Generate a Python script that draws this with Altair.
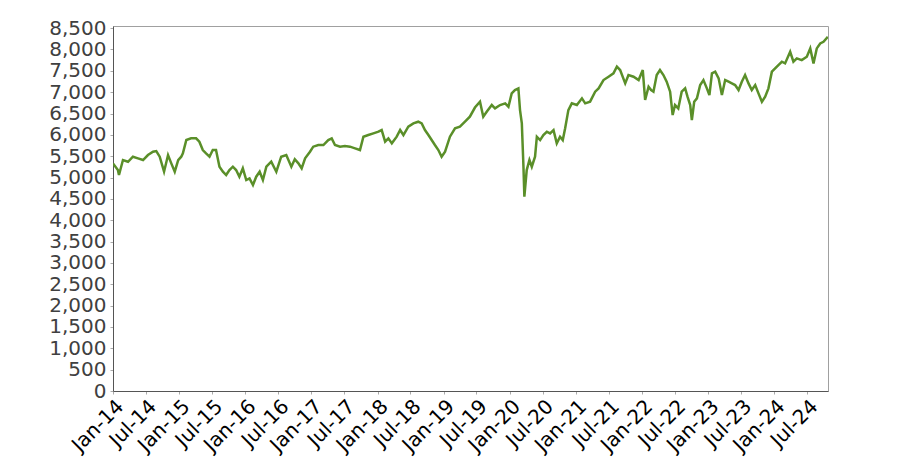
import altair as alt
import pandas as pd

dates = [
    "2014-01-01", "2014-01-28", "2014-02-03", "2014-02-25", "2014-03-25", "2014-04-21",
    "2014-05-19", "2014-06-16", "2014-07-13", "2014-08-10", "2014-08-28", "2014-09-16",
    "2014-10-10", "2014-11-01", "2014-11-19", "2014-12-08", "2014-12-27",
    "2015-01-13", "2015-01-22", "2015-02-10", "2015-03-08", "2015-04-05", "2015-04-23",
    "2015-05-12", "2015-05-30", "2015-06-18", "2015-07-06", "2015-07-24", "2015-08-12",
    "2015-08-31", "2015-09-18", "2015-10-06", "2015-10-25", "2015-11-12", "2015-11-30",
    "2015-12-19",
    "2016-01-07", "2016-01-25", "2016-02-13", "2016-03-02", "2016-03-21", "2016-04-08",
    "2016-04-27", "2016-05-24", "2016-06-21", "2016-07-18", "2016-08-15", "2016-09-12",
    "2016-10-01", "2016-10-21", "2016-11-08", "2016-11-27", "2016-12-24",
    "2017-01-11", "2017-02-08", "2017-03-08", "2017-04-04", "2017-04-23", "2017-05-11",
    "2017-06-08", "2017-07-05", "2017-08-02", "2017-08-30", "2017-09-26", "2017-10-15",
    "2017-11-11", "2017-12-09",
    "2018-01-06", "2018-01-24", "2018-02-12", "2018-03-02", "2018-03-21", "2018-04-17",
    "2018-05-06", "2018-05-24", "2018-06-20", "2018-07-18", "2018-08-14", "2018-09-02",
    "2018-09-20", "2018-10-09", "2018-10-27", "2018-11-14", "2018-12-03", "2018-12-21",
    "2019-01-09", "2019-02-05", "2019-03-05", "2019-04-01", "2019-04-29", "2019-05-26",
    "2019-06-23", "2019-07-21", "2019-08-08", "2019-08-27", "2019-09-24", "2019-10-12",
    "2019-11-09", "2019-12-07", "2019-12-25",
    "2020-01-12", "2020-01-30", "2020-02-18", "2020-02-27", "2020-03-08", "2020-03-17",
    "2020-03-22", "2020-04-04", "2020-04-19", "2020-05-02", "2020-05-20", "2020-05-30",
    "2020-06-17", "2020-07-05", "2020-07-24", "2020-08-11", "2020-08-30", "2020-09-17",
    "2020-10-05", "2020-10-20", "2020-11-02", "2020-11-20", "2020-12-09",
    "2021-01-06", "2021-02-03", "2021-02-21", "2021-03-20", "2021-04-17", "2021-05-06",
    "2021-06-02", "2021-06-30", "2021-07-27", "2021-08-15", "2021-09-02", "2021-09-30",
    "2021-10-18", "2021-11-15", "2021-12-13",
    "2022-01-05", "2022-01-18", "2022-02-06", "2022-02-20", "2022-03-05", "2022-03-23",
    "2022-04-10", "2022-04-29", "2022-05-17", "2022-06-05", "2022-06-19", "2022-07-02",
    "2022-07-20", "2022-08-08", "2022-08-27", "2022-09-09", "2022-09-24", "2022-10-03",
    "2022-10-16", "2022-10-31", "2022-11-18", "2022-12-06", "2022-12-25",
    "2023-01-08", "2023-01-22", "2023-02-09", "2023-02-28", "2023-03-18", "2023-04-05",
    "2023-04-24", "2023-05-12", "2023-05-30", "2023-06-18", "2023-07-06", "2023-07-24",
    "2023-08-12", "2023-08-30", "2023-09-18", "2023-10-06", "2023-10-25", "2023-11-12",
    "2023-11-30", "2023-12-19",
    "2024-01-06", "2024-01-24", "2024-02-12", "2024-03-01", "2024-03-29", "2024-04-16",
    "2024-05-05", "2024-06-01", "2024-06-29", "2024-07-18", "2024-08-05", "2024-08-23",
    "2024-09-11", "2024-09-29", "2024-10-23",
]

values = [
    5332, 5176, 5059, 5410, 5370, 5488,
    5450, 5410, 5527, 5605, 5620, 5488,
    5137, 5527, 5332, 5137, 5410,
    5488, 5566, 5879, 5918, 5918, 5840,
    5644, 5566, 5488, 5644, 5644, 5254,
    5137, 5059, 5176, 5254, 5176, 5020,
    5215,
    4942, 4981, 4825, 5020, 5137, 4942,
    5254, 5371, 5137, 5488, 5527, 5254,
    5430, 5332, 5215, 5449, 5605,
    5723, 5762, 5762, 5879, 5918, 5762,
    5723, 5738, 5723, 5684, 5645, 5957,
    5996, 6035,
    6074, 6113, 5840, 5918, 5801, 5957,
    6113, 5996, 6191, 6269, 6308, 6269,
    6113, 5996, 5879, 5762, 5645, 5488,
    5605, 5957, 6152, 6191, 6308, 6425,
    6640, 6777, 6425, 6542, 6699, 6620,
    6699, 6738, 6659,
    6971, 7049, 7088, 6581, 6268, 5253,
    4551, 5175, 5410, 5253, 5488, 5956,
    5878, 5995, 6073, 6034, 6112, 5800,
    5956, 5878, 6151, 6581, 6738,
    6699, 6855, 6738, 6777, 7011, 7089,
    7284, 7362, 7440, 7596, 7518, 7206,
    7401, 7362, 7284,
    7518, 6816, 7128, 7050, 7011, 7401,
    7518, 7401, 7245, 7011, 6464, 6698,
    6620, 7011, 7089, 6894, 6698, 6347,
    6776, 6855, 7167, 7284, 7089,
    6933, 7440, 7479, 7323, 6933, 7284,
    7245, 7206, 7167, 7050, 7245, 7401,
    7206, 7050, 7167, 6972, 6776, 6894,
    7089, 7479,
    7557, 7635, 7713, 7674, 7947, 7713,
    7791, 7752, 7830, 8025, 7674, 8025,
    8142, 8181, 8298,
]

tick_dates = [(y, m) for y in range(2014, 2025) for m in (1, 7)]
y_ticks = list(range(0, 8501, 500))

df = pd.DataFrame({"date": dates, "value": values})

chart = (
    alt.Chart(df)
    .mark_line(color="#5a8f29", strokeWidth=2.5, clip=True, strokeJoin="miter")
    .encode(
        x=alt.X(
            "date:T",
            title=None,
            scale=alt.Scale(
                type="utc",
                domain=[
                    alt.DateTime(year=2014, month=1, date=1, utc=True),
                    alt.DateTime(year=2024, month=10, date=24, utc=True),
                ],
                nice=False,
            ),
            axis=alt.Axis(
                values=[alt.DateTime(year=y, month=m, date=1, utc=True) for y, m in tick_dates],
                format="%b-%y",
                labelAngle=315,
                labelAlign="right",
                labelBaseline="top",
                labelFontSize=20,
                labelColor="#000000",
                labelPadding=2,
                tickSize=3,
                tickColor="#aaaaaa",
                domainColor="#555555",
                grid=False,
                labelOverlap=False,
            ),
        ),
        y=alt.Y(
            "value:Q",
            title=None,
            scale=alt.Scale(domain=[0, 8550], nice=False, zero=True),
            axis=alt.Axis(
                values=y_ticks,
                format=",d",
                labelFontSize=20,
                labelColor="#404040",
                labelPadding=4,
                tickSize=3,
                tickColor="#aaaaaa",
                domainColor="#555555",
                grid=False,
                labelOverlap=False,
            ),
        ),
    )
    .properties(
        width=715,
        height=365,
        autosize=alt.AutoSizeParams(type="none"),
        padding={"left": 105, "top": 18, "right": 60, "bottom": 68},
    )
    .configure(font="DejaVu Sans")
    .configure_view(stroke="#a0a0a0", strokeWidth=1)
    .configure_axis(labelFont="DejaVu Sans")
)

chart.save("out.html", embed_options={"renderer": "svg", "actions": False})
